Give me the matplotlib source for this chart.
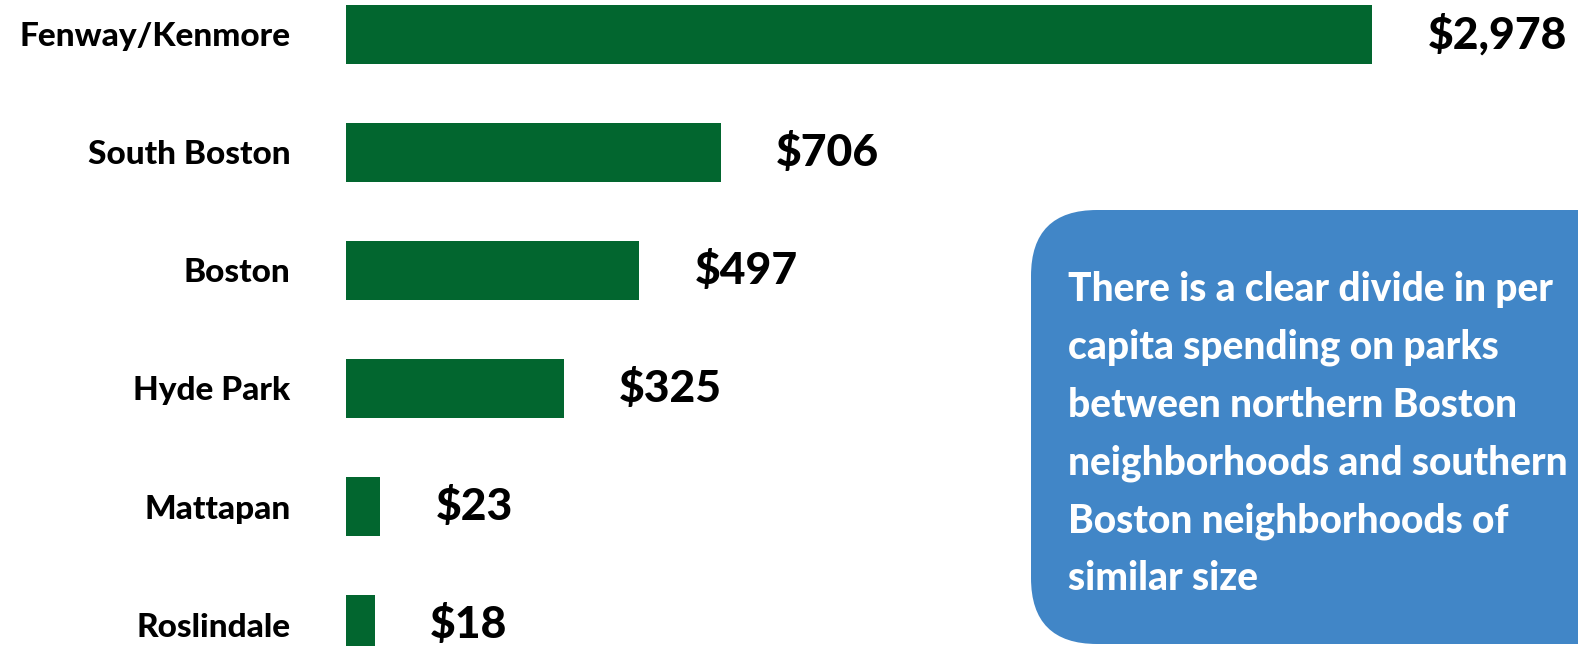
import matplotlib.pyplot as plt
import numpy as np
from matplotlib.patches import FancyBboxPatch

neighborhoods = ["Fenway/Kenmore", "South Boston", "Boston", "Hyde Park", "Mattapan", "Roslindale"]
spending = [2978, 706, 497, 325, 23, 18]
value_labels = ["$2,978", "$706", "$497", "$325", "$23", "$18"]
note_lines = [
    "There is a clear divide in per",
    "capita spending on parks",
    "between northern Boston",
    "neighborhoods and southern",
    "Boston neighborhoods of",
    "similar size",
]

green = "#02662F"
blue = "#4186C7"
font = ["Lato", "DejaVu Sans"]

plt.rcParams["font.family"] = font

# compressed power scale so the small bars stay visible
power = 0.7


def fwd(v):
    return np.sign(v) * np.abs(v) ** power


def inv(v):
    return np.sign(v) * np.abs(v) ** (1 / power)


fig = plt.figure(figsize=(15.78, 6.46), dpi=100)
ax = fig.add_axes([346 / 1578, 0, 1 - 346 / 1578, 1])
ax.set_xscale("function", functions=(fwd, inv))

y = np.arange(len(neighborhoods))
ax.barh(y, spending, height=0.5, color=green, edgecolor="none")
ax.set_xlim(0, 3867)
ax.set_ylim(5.182, -0.292)

ax.set_yticks(y)
ax.set_yticklabels(neighborhoods, fontsize=24, fontweight="black")
ax.tick_params(axis="y", length=0, pad=40)
ax.set_xticks([])
ax.xaxis.set_minor_locator(plt.NullLocator())
for s in ax.spines.values():
    s.set_visible(False)

for yi, v, lab in zip(y, spending, value_labels):
    ax.annotate(lab, (v, yi), xytext=(40, 0), textcoords="offset points",
                ha="left", va="center", fontsize=32, fontweight="black",
                annotation_clip=False)

# note box drawn in pixel coordinates on an overlay
ov = fig.add_axes([0, 0, 1, 1])
ov.set_xlim(0, 1578)
ov.set_ylim(646, 0)
ov.axis("off")
box = FancyBboxPatch((1031, 210), 800, 434,
                     boxstyle="round,pad=0,rounding_size=66",
                     facecolor=blue, edgecolor="none")
ov.add_patch(box)
for i, line in enumerate(note_lines):
    ov.text(1068, 301 + i * 57.8, line, color="white", fontsize=28,
            fontweight="black", ha="left", va="baseline")

fig.savefig("out.png", dpi=100)
